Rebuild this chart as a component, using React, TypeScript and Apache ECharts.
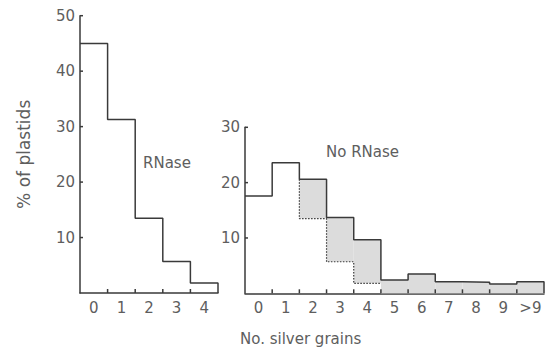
import React, { useEffect, useRef } from "react";
import * as echarts from "echarts";

// % of plastids per number of silver grains
const rnaseCats = ["0", "1", "2", "3", "4"];
const rnaseValues = [45, 31.3, 13.5, 5.7, 1.8];

const noRnaseCats = ["0", "1", "2", "3", "4", "5", "6", "7", "8", "9", ">9"];
const noRnaseValues = [17.6, 23.6, 20.6, 13.7, 9.7, 2.4, 3.5, 2.1, 2.0, 1.7, 2.1];

const leftTicks = [0, 10, 20, 30, 40, 50];
const rightTicks = [0, 10, 20, 30];

const LINE = "#3a3a3a";
const TEXT = "#5e5e5e";
const FONT = "DejaVu Sans";

function stepPoints(values: number[]): number[][] {
  const pts: number[][] = [];
  values.forEach((v, i) => {
    pts.push([i, v]);
    pts.push([i + 1, v]);
  });
  pts.push([values.length, 0]);
  return pts;
}

// dotted outline: RNase distribution over bins 2..4 drawn inside the No RNase chart
const overlayBins = [2, 3, 4];
function dottedPoints(): number[][] {
  const pts: number[][] = [];
  const first = overlayBins[0];
  pts.push([first, noRnaseValues[first]]);
  overlayBins.forEach((b) => {
    pts.push([b, rnaseValues[b]]);
    pts.push([b + 1, rnaseValues[b]]);
  });
  return pts;
}

function shadeData(): number[][] {
  const out: number[][] = [];
  for (let i = overlayBins[0]; i < noRnaseValues.length; i++) {
    const lower = overlayBins.indexOf(i) >= 0 ? rnaseValues[i] : 0;
    out.push([i, lower, noRnaseValues[i]]);
  }
  return out;
}

function tickSeries(xIdx: number, yIdx: number, nBins: number, yTicks: number[]) {
  const data: number[][] = [];
  for (let b = 1; b < nBins; b++) data.push([b, 0, 0]);
  yTicks.filter((v) => v > 0).forEach((v) => data.push([0, v, 1]));
  return {
    type: "custom", xAxisIndex: xIdx, yAxisIndex: yIdx, z: 4, clip: false, silent: true,
    data,
    renderItem: (params: any, api: any) => {
      const p = api.coord([api.value(0), api.value(1)]);
      const vertical = api.value(2) === 0;
      return {
        type: "line",
        shape: vertical
          ? { x1: p[0], y1: p[1], x2: p[0], y2: p[1] - 4 }
          : { x1: p[0], y1: p[1], x2: p[0] + 3, y2: p[1] },
        style: { stroke: LINE, lineWidth: 1.5 },
      };
    },
  };
}

export default function App() {
  const ref = useRef<HTMLDivElement>(null);
  useEffect(() => {
    if (!ref.current) return;
    const chart = echarts.init(ref.current, null, { renderer: "svg" });
    const mkLine = () => ({ show: true, lineStyle: { color: LINE, width: 1.5 } });
    const mkLabel = () => ({ color: TEXT, fontFamily: FONT, fontSize: 15 });
    chart.setOption({
      animation: false,
      backgroundColor: "#fff",
      grid: [
        { left: 80, top: 15.7, width: 138, height: 277.3 },
        { left: 245, top: 127.3, width: 299, height: 166 },
      ],
      xAxis: [
        {
          type: "category", gridIndex: 0, data: rnaseCats, boundaryGap: true,
          axisLine: mkLine(), axisTick: { show: false },
          axisLabel: { ...mkLabel(), margin: 7, interval: 0 }, splitLine: { show: false },
        },
        { type: "value", gridIndex: 0, min: 0, max: rnaseCats.length, show: false },
        {
          type: "category", gridIndex: 1, data: noRnaseCats, boundaryGap: true,
          axisLine: mkLine(), axisTick: { show: false },
          axisLabel: { ...mkLabel(), margin: 7, interval: 0 }, splitLine: { show: false },
        },
        { type: "value", gridIndex: 1, min: 0, max: noRnaseCats.length, show: false },
      ],
      yAxis: [
        {
          type: "value", gridIndex: 0, min: leftTicks[0], max: leftTicks[leftTicks.length - 1], interval: 10,
          axisLine: mkLine(), axisTick: { show: false },
          axisLabel: { ...mkLabel(), margin: 5, formatter: (v: number) => (v === 0 ? "" : String(v)) },
          splitLine: { show: false },
          name: "% of plastids", nameLocation: "middle", nameRotate: 90, nameGap: 48,
          nameTextStyle: { color: TEXT, fontFamily: FONT, fontSize: 17 },
        },
        {
          type: "value", gridIndex: 1, min: rightTicks[0], max: rightTicks[rightTicks.length - 1], interval: 10,
          axisLine: mkLine(), axisTick: { show: false },
          axisLabel: { ...mkLabel(), margin: 5, formatter: (v: number) => (v === 0 ? "" : String(v)) },
          splitLine: { show: false },
        },
      ],
      series: [
        {
          type: "custom", xAxisIndex: 3, yAxisIndex: 1, z: 1,
          data: shadeData(),
          renderItem: (params: any, api: any) => {
            const x = api.value(0);
            const lo = api.value(1);
            const hi = api.value(2);
            const p1 = api.coord([x, hi]);
            const p2 = api.coord([x + 1, lo]);
            return {
              type: "rect",
              shape: { x: p1[0], y: p1[1], width: p2[0] - p1[0], height: p2[1] - p1[1] },
              style: { fill: "#dcdcdc", stroke: null },
            };
          },
        },
        {
          type: "line", xAxisIndex: 1, yAxisIndex: 0, data: stepPoints(rnaseValues),
          symbol: "none", lineStyle: { color: LINE, width: 1.5 }, z: 3,
        },
        {
          type: "line", xAxisIndex: 3, yAxisIndex: 1, data: stepPoints(noRnaseValues),
          symbol: "none", lineStyle: { color: LINE, width: 1.5 }, z: 3,
        },
        {
          type: "line", xAxisIndex: 3, yAxisIndex: 1, data: dottedPoints(),
          symbol: "none", lineStyle: { color: LINE, width: 1.2, type: [1.5, 1.5] }, z: 3,
        },
        tickSeries(1, 0, rnaseCats.length, leftTicks),
        tickSeries(3, 1, noRnaseCats.length, rightTicks),
      ],
      graphic: [
        { type: "text", left: 143, top: 155, style: { text: "RNase", fill: TEXT, font: `15px "${FONT}"` } },
        { type: "text", left: 326, top: 144, style: { text: "No RNase", fill: TEXT, font: `15px "${FONT}"` } },
        { type: "text", left: 240, top: 331, style: { text: "No. silver grains", fill: TEXT, font: `15px "${FONT}"` } },
      ],
    });
    return () => chart.dispose();
  }, []);
  return <div ref={ref} style={{ position: "absolute", left: 0, top: 0, width: 545, height: 354 }} />;
}
